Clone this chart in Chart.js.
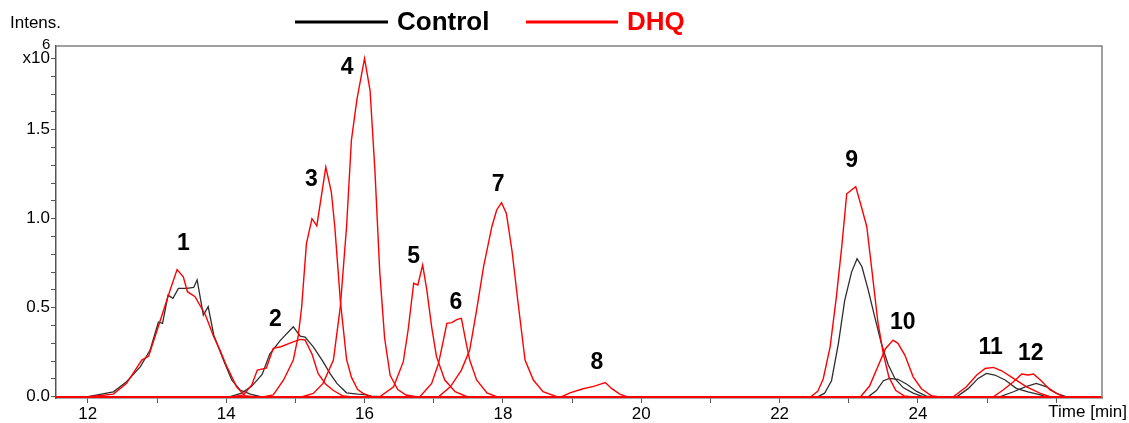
<!DOCTYPE html>
<html>
<head>
<meta charset="utf-8">
<script src="https://cdn.jsdelivr.net/npm/chart.js@4.4.0/dist/chart.umd.min.js"></script>
<style>
html, body { margin: 0; padding: 0; background: #fff; }
</style>
</head>
<body>
<canvas id="chrom" width="1129" height="423"></canvas>
<script>
// Extracted ion chromatograms, time [min] vs intensity [x10^6]
const ctrlTrace1 = [[12.0,0],[12.18,0.013],[12.37,0.028],[12.56,0.084],[12.76,0.169],[12.90,0.262],[13.02,0.42],[13.08,0.412],[13.16,0.571],[13.23,0.553],[13.31,0.609],[13.43,0.609],[13.53,0.614],[13.58,0.656],[13.67,0.459],[13.74,0.506],[13.82,0.347],[13.96,0.206],[14.08,0.094],[14.20,0.038],[14.35,0.015],[14.5,0]];
const ctrlTrace2 = [[14.05,0],[14.22,0.02],[14.37,0.06],[14.52,0.125],[14.63,0.24],[14.78,0.315],[14.97,0.393],[15.07,0.34],[15.14,0.335],[15.26,0.28],[15.40,0.197],[15.50,0.131],[15.60,0.075],[15.74,0.022],[15.90,0.015],[16.0,0.012],[16.1,0.003],[16.25,0]];
const ctrlTrace9 = [[22.55,0],[22.65,0.02],[22.75,0.09],[22.85,0.30],[22.94,0.54],[23.04,0.70],[23.12,0.775],[23.19,0.73],[23.28,0.60],[23.38,0.44],[23.47,0.30],[23.57,0.18],[23.67,0.10],[23.79,0.05],[23.93,0.02],[24.08,0]];
const ctrlTrace10 = [[23.28,0],[23.40,0.035],[23.50,0.09],[23.59,0.103],[23.71,0.098],[23.84,0.07],[23.98,0.03],[24.12,0.004],[24.25,0]];
const ctrlTrace11 = [[24.56,0],[24.73,0.047],[24.87,0.103],[24.99,0.131],[25.11,0.122],[25.26,0.094],[25.42,0.047],[25.59,0.028],[25.77,0.01],[25.86,0]];
const ctrlTrace12 = [[25.18,0],[25.38,0.028],[25.55,0.056],[25.71,0.075],[25.86,0.056],[26.00,0.019],[26.15,0]];

const dhqTrace1 = [[12.03,0],[12.37,0.015],[12.56,0.075],[12.78,0.206],[12.88,0.229],[13.04,0.42],[13.19,0.60],[13.29,0.714],[13.38,0.674],[13.44,0.59],[13.55,0.562],[13.70,0.459],[13.82,0.337],[13.91,0.262],[14.01,0.169],[14.15,0.056],[14.27,0.006],[14.4,0]];
const dhqTrace2 = [[14.1,0],[14.25,0.01],[14.37,0.066],[14.45,0.15],[14.58,0.16],[14.68,0.272],[14.79,0.281],[14.95,0.305],[15.07,0.322],[15.14,0.319],[15.24,0.24],[15.33,0.13],[15.44,0.07],[15.55,0.035],[15.69,0.004],[15.8,0]];
const dhqTrace3 = [[14.55,0],[14.68,0.01],[14.83,0.094],[14.97,0.206],[15.04,0.337],[15.09,0.5],[15.16,0.86],[15.24,1.0],[15.31,0.96],[15.44,1.29],[15.52,1.15],[15.57,0.955],[15.65,0.54],[15.74,0.21],[15.81,0.11],[15.9,0.04],[15.98,0.019],[16.1,0]];
const dhqTrace4 = [[15.1,0],[15.26,0.019],[15.40,0.075],[15.55,0.206],[15.65,0.506],[15.74,0.955],[15.81,1.44],[15.89,1.67],[16.0,1.90],[16.08,1.72],[16.15,1.27],[16.22,0.70],[16.29,0.33],[16.37,0.12],[16.48,0.04],[16.6,0.01],[16.75,0]];
const dhqTrace5 = [[16.22,0],[16.42,0.056],[16.56,0.197],[16.63,0.375],[16.71,0.637],[16.77,0.628],[16.84,0.74],[16.90,0.60],[16.97,0.393],[17.04,0.225],[17.16,0.094],[17.31,0.028],[17.48,0]];
const dhqTrace6 = [[16.80,0],[16.97,0.075],[17.07,0.188],[17.13,0.30],[17.19,0.412],[17.26,0.416],[17.34,0.435],[17.40,0.44],[17.47,0.30],[17.52,0.206],[17.62,0.094],[17.77,0.022],[17.91,0]];
const dhqTrace7 = [[17.07,0],[17.24,0.056],[17.40,0.15],[17.52,0.262],[17.62,0.487],[17.72,0.73],[17.84,0.955],[17.91,1.049],[17.98,1.09],[18.05,1.03],[18.13,0.824],[18.22,0.525],[18.32,0.206],[18.44,0.094],[18.58,0.028],[18.78,0]];
const dhqTrace8 = [[18.85,0],[18.97,0.022],[19.16,0.045],[19.31,0.058],[19.39,0.068],[19.48,0.08],[19.57,0.047],[19.69,0.015],[19.79,0]];
const dhqTrace9 = [[22.45,0],[22.55,0.03],[22.63,0.10],[22.73,0.28],[22.82,0.56],[22.90,0.85],[22.97,1.14],[23.10,1.18],[23.18,1.07],[23.26,0.955],[23.34,0.69],[23.42,0.42],[23.50,0.24],[23.58,0.11],[23.68,0.035],[23.80,0.005],[23.9,0]];
const dhqTrace10 = [[23.17,0],[23.30,0.06],[23.42,0.17],[23.53,0.27],[23.64,0.318],[23.71,0.30],[23.81,0.234],[23.93,0.112],[24.05,0.045],[24.20,0.004],[24.3,0]];
const dhqTrace11 = [[24.51,0],[24.70,0.056],[24.85,0.122],[24.97,0.159],[25.09,0.165],[25.21,0.146],[25.38,0.103],[25.57,0.056],[25.77,0.019],[25.91,0]];
const dhqTrace12 = [[25.09,0],[25.23,0.038],[25.38,0.084],[25.50,0.128],[25.59,0.122],[25.67,0.128],[25.77,0.094],[25.91,0.038],[26.10,0]];

const controlTraces = [ctrlTrace1, ctrlTrace2, ctrlTrace9, ctrlTrace10, ctrlTrace11, ctrlTrace12];
const dhqTraces = [dhqTrace1, dhqTrace2, dhqTrace3, dhqTrace4, dhqTrace5, dhqTrace6, dhqTrace7, dhqTrace8, dhqTrace9, dhqTrace10, dhqTrace11, dhqTrace12];

// peak numbers and where they sit (time, intensity)
const peakNames = ['1', '2', '3', '4', '5', '6', '7', '8', '9', '10', '11', '12'];
const peakTimes = [13.38, 14.71, 15.23, 15.75, 16.71, 17.32, 17.93, 19.36, 23.04, 23.78, 25.05, 25.63];
const peakHeights = [0.858, 0.431, 1.217, 1.846, 0.785, 0.526, 1.189, 0.189, 1.324, 0.415, 0.274, 0.24];

// axis ticks
const xTickValues = [12, 13, 14, 15, 16, 17, 18, 19, 20, 21, 22, 23, 24, 25, 26];
const xTickLabels = ['12', '', '14', '', '16', '', '18', '', '20', '', '22', '', '24', '', ''];
const yTickValues = [0, 0.1, 0.2, 0.3, 0.4, 0.5, 0.6, 0.7, 0.8, 0.9, 1.0, 1.1, 1.2, 1.3, 1.4, 1.5, 1.6, 1.7, 1.8, 1.9];
const yTickLabels = ['0.0', '', '', '', '', '0.5', '', '', '', '', '1.0', '', '', '', '', '1.5', '', '', '', 'x10'];

const X_MIN = 11.54, X_MAX = 26.66;
const FONT = "'Liberation Sans', Arial, sans-serif";

// each trace sits on a flat baseline across the whole run
function toPoints(trace) {
    return [{ x: X_MIN, y: 0 }].concat(trace.map(p => ({ x: p[0], y: p[1] })), [{ x: X_MAX, y: 0 }]);
}

const datasets = [];
dhqTraces.forEach(tr => datasets.push({
    label: 'DHQ', data: toPoints(tr), borderColor: '#ff0000', borderWidth: 1.4,
    pointRadius: 0, tension: 0, order: 0
}));
controlTraces.forEach(tr => datasets.push({
    label: 'Control', data: toPoints(tr), borderColor: '#2e2e2e', borderWidth: 1.3,
    pointRadius: 0, tension: 0, order: 1
}));

const decorations = {
    id: 'decorations',
    afterDatasetsDraw(chart) {
        const ctx = chart.ctx;
        const a = chart.chartArea;
        const xs = chart.scales.x, ys = chart.scales.y;
        ctx.save();
        // top and right frame
        ctx.strokeStyle = '#808080';
        ctx.lineWidth = 1.5;
        ctx.beginPath();
        ctx.moveTo(a.left, a.top);
        ctx.lineTo(a.right, a.top);
        ctx.lineTo(a.right, a.bottom);
        ctx.stroke();

        // peak numbers
        ctx.fillStyle = '#000';
        ctx.font = 'bold 23px ' + FONT;
        ctx.textAlign = 'center';
        ctx.textBaseline = 'middle';
        peakNames.forEach((n, i) => {
            ctx.fillText(n, xs.getPixelForValue(peakTimes[i]), ys.getPixelForValue(peakHeights[i]));
        });
        ctx.restore();
    },
    afterDraw(chart) {
        const ctx = chart.ctx;
        const ys = chart.scales.y;
        ctx.save();
        ctx.fillStyle = '#000';
        ctx.textBaseline = 'middle';
        ctx.font = '17px ' + FONT;
        ctx.textAlign = 'left';
        ctx.fillText('Intens.', 10, 23);
        ctx.textAlign = 'right';
        ctx.fillText('Time [min]', 1127, 412);
        // exponent of the y axis factor
        ctx.font = '15px ' + FONT;
        ctx.textAlign = 'left';
        ctx.fillText('6', 42, ys.getPixelForValue(1.9) - 14);

        // legend
        ctx.lineWidth = 3;
        ctx.strokeStyle = '#000';
        ctx.beginPath(); ctx.moveTo(295, 22); ctx.lineTo(388, 22); ctx.stroke();
        ctx.strokeStyle = '#ff0000';
        ctx.beginPath(); ctx.moveTo(526, 22); ctx.lineTo(618, 22); ctx.stroke();
        ctx.font = 'bold 26px ' + FONT;
        ctx.fillStyle = '#000';
        ctx.fillText('Control', 397, 23);
        ctx.fillStyle = '#ff0000';
        ctx.fillText('DHQ', 627, 23);
        ctx.restore();
    }
};

new Chart(document.getElementById('chrom').getContext('2d'), {
    type: 'line',
    data: { datasets: datasets },
    plugins: [decorations],
    options: {
        responsive: false,
        animation: false,
        layout: { padding: { left: 0, right: 27, top: 46, bottom: 0 } },
        plugins: {
            legend: { display: false },
            tooltip: { enabled: false }
        },
        scales: {
            x: {
                type: 'linear',
                min: X_MIN,
                max: X_MAX,
                afterBuildTicks: s => { s.ticks = xTickValues.map(v => ({ value: v })); },
                afterFit: s => { s.height = 25; },
                ticks: {
                    autoSkip: false,
                    maxRotation: 0,
                    color: '#000',
                    padding: 1,
                    font: { family: FONT, size: 17 },
                    callback: (v, i) => xTickLabels[i]
                },
                grid: { drawOnChartArea: false, tickLength: 5, color: '#555' },
                border: { color: '#555', width: 1.5 }
            },
            y: {
                min: -0.007,
                max: 1.97,
                afterBuildTicks: s => { s.ticks = yTickValues.map(v => ({ value: v })); },
                afterFit: s => { s.width = 56; },
                ticks: {
                    autoSkip: false,
                    color: '#000',
                    padding: 1,
                    font: { family: FONT, size: 17 },
                    callback: (v, i) => yTickLabels[i]
                },
                grid: { drawOnChartArea: false, tickLength: 5, color: '#555' },
                border: { color: '#555', width: 1.5 }
            }
        }
    }
});
</script>
</body>
</html>
